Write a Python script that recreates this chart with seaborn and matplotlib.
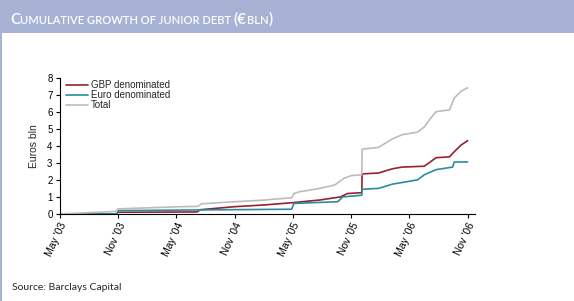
import matplotlib
matplotlib.use("Agg")
import matplotlib.pyplot as plt
from matplotlib.patches import Rectangle
import seaborn as sns
import pandas as pd

# series values (euros bln)
gbp_dates = ['2003-05-01', '2003-10-28', '2003-11-01', '2004-07-05', '2004-07-15',
             '2004-11-01', '2005-02-01', '2005-04-28', '2005-07-25', '2005-09-28',
             '2005-10-20', '2005-12-04', '2005-12-05', '2006-01-25', '2006-03-10',
             '2006-04-10', '2006-06-18', '2006-07-03', '2006-07-25', '2006-09-05',
             '2006-09-20', '2006-10-12', '2006-11-01']
gbp_values = [0.0, 0.0, 0.1, 0.12, 0.25, 0.43, 0.53, 0.66, 0.82, 1.0, 1.2, 1.25, 2.35,
              2.4, 2.65, 2.75, 2.8, 3.0, 3.3, 3.35, 3.65, 4.05, 4.3]

euro_dates = ['2003-05-01', '2003-10-28', '2003-11-01', '2005-04-28', '2005-05-05',
              '2005-09-20', '2005-10-05', '2005-12-04', '2005-12-05', '2006-01-25',
              '2006-03-10', '2006-05-28', '2006-06-18', '2006-07-25', '2006-09-15',
              '2006-09-20', '2006-11-01']
euro_values = [0.0, 0.0, 0.2, 0.28, 0.62, 0.72, 1.0, 1.1, 1.45, 1.5, 1.75, 2.0, 2.3,
               2.6, 2.75, 3.05, 3.05]

total_dates = ['2003-05-01', '2003-10-25', '2003-11-01', '2004-05-01', '2004-07-08',
               '2004-07-20', '2004-11-01', '2005-01-20', '2005-04-07', '2005-04-28',
               '2005-05-05', '2005-05-22', '2005-07-25', '2005-09-10', '2005-10-10',
               '2005-11-01', '2005-12-04', '2005-12-05', '2006-01-25', '2006-03-10',
               '2006-04-10', '2006-05-28', '2006-06-18', '2006-07-03', '2006-07-25',
               '2006-09-05', '2006-09-20', '2006-10-12', '2006-11-01']
total_values = [0.0, 0.15, 0.3, 0.42, 0.45, 0.6, 0.72, 0.8, 0.92, 0.95, 1.2, 1.3, 1.5,
                1.7, 2.1, 2.25, 2.3, 3.8, 3.9, 4.4, 4.65, 4.8, 5.1, 5.5, 6.0, 6.1,
                6.8, 7.2, 7.4]

series_names = ['GBP denominated', 'Euro denominated', 'Total']
series_colors = ['#98202f', '#2a8c9e', '#bcbcbc']
tick_dates = ['2003-05-01', '2003-11-01', '2004-05-01', '2004-11-01',
              '2005-05-01', '2005-11-01', '2006-05-01', '2006-11-01']
tick_labels = ["May '03", "Nov '03", "May '04", "Nov '04",
               "May '05", "Nov '05", "May '06", "Nov '06"]

frames = []
for name, d, v in zip(series_names,
                      [gbp_dates, euro_dates, total_dates],
                      [gbp_values, euro_values, total_values]):
    frames.append(pd.DataFrame({'Date': pd.to_datetime(d), 'Value': v, 'Series': name}))
df = pd.concat(frames, ignore_index=True)

sns.set_style('white')
plt.rcParams['font.family'] = ['Liberation Sans', 'DejaVu Sans']

fig = plt.figure(figsize=(5.74, 3.01), dpi=100)
fig.patch.set_facecolor('white')

# title band and left border
fig.patches.append(Rectangle((0, 1 - 33 / 301), 1, 33 / 301, transform=fig.transFigure,
                             facecolor='#a7b2d4', edgecolor='none', zorder=0))
fig.patches.append(Rectangle((0, 0), 2 / 574, 1, transform=fig.transFigure,
                             facecolor='#a7b2d4', edgecolor='none', zorder=0))

ax = fig.add_axes([59.5 / 574, 87 / 301, 415.5 / 574, 136.5 / 301])
sns.lineplot(data=df, x='Date', y='Value', hue='Series', hue_order=series_names,
             palette=dict(zip(series_names, series_colors)), estimator=None,
             sort=False, linewidth=1.2, ax=ax)

ax.set_xlim(pd.Timestamp('2003-05-01'), pd.Timestamp('2006-11-24'))
ax.set_ylim(0, 8)
ax.set_yticks(range(0, 9))
ax.set_xticks(pd.to_datetime(tick_dates))
ax.set_xticklabels(tick_labels, rotation=65, ha='right', va='top', rotation_mode='anchor')
ax.tick_params(axis='both', direction='out', length=3, width=0.8, labelsize=7,
               colors='black', pad=2, bottom=True, left=True)
ax.tick_params(axis='x', labelsize=7.5)
ax.set_xlabel('')
ax.set_ylabel('Euros bln', fontsize=7.5, labelpad=6)
for side in ['top', 'right']:
    ax.spines[side].set_visible(False)
for side in ['left', 'bottom']:
    ax.spines[side].set_color('black')
    ax.spines[side].set_linewidth(0.8)

ax.legend(loc='upper left', bbox_to_anchor=(0.0, 1.03), frameon=False, fontsize=7,
          handlelength=2.2, handletextpad=0.3, labelspacing=0.0, borderaxespad=0.3)

# small-caps title built from pieces
renderer = fig.canvas.get_renderer()
x = 10
pieces = [('C', 11), ('UMULATIVE GROWTH OF JUNIOR DEBT ', 8), ('(€', 11),
          ('BLN', 8), (')', 11)]
for text, size in pieces:
    t = fig.text(x / 574, 1 - 24 / 301, text, color='white', fontsize=size,
                 family=['Lato', 'DejaVu Sans'], weight='semibold',
                 va='baseline', ha='left')
    x = t.get_window_extent(renderer).x1

fig.text(12 / 574, 1 - 290 / 301, 'Source: Barclays Capital', fontsize=7.5,
         family=['Lato', 'DejaVu Sans'], va='baseline')

fig.savefig('out.png', dpi=100)
